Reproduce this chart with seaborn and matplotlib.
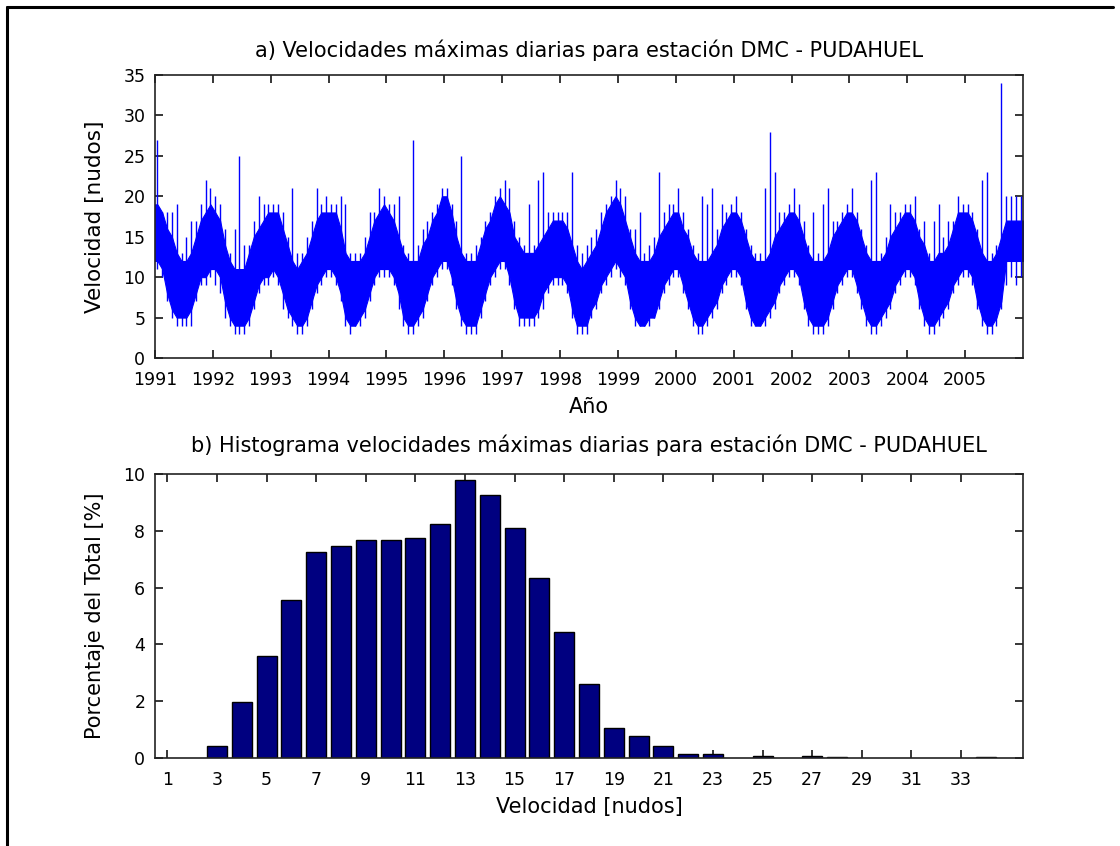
import numpy as np
import matplotlib
matplotlib.use("Agg")
import matplotlib.pyplot as plt
import seaborn as sns

# ---------------- data: panel a (monthly summary of daily maxima, 1991-01 .. 2005-12)
start_year = 1991
end_year = 2006
year_ticks = list(range(1991, 2006))

# upper edge of the dense band (nudos), one value per month, one row per year
core_hi = [
    19, 18, 16, 15, 13, 12, 12, 13, 15, 17, 18, 19,   # 1991
    18, 17, 14, 12, 11, 11, 11, 13, 15, 16, 17, 18,   # 1992
    18, 18, 16, 14, 12, 11, 12, 13, 15, 17, 18, 18,   # 1993
    18, 18, 16, 13, 12, 12, 12, 13, 15, 17, 18, 19,   # 1994
    18, 17, 15, 13, 12, 12, 12, 14, 15, 17, 18, 20,   # 1995
    20, 18, 15, 13, 12, 12, 12, 14, 16, 17, 19, 20,   # 1996
    19, 18, 15, 14, 13, 13, 13, 14, 15, 16, 17, 17,   # 1997
    17, 16, 14, 12, 11, 12, 13, 14, 16, 18, 19, 20,   # 1998
    19, 17, 15, 13, 12, 12, 12, 13, 15, 16, 17, 18,   # 1999
    18, 16, 15, 13, 12, 12, 12, 13, 14, 16, 17, 18,   # 2000
    18, 17, 15, 13, 12, 12, 12, 13, 15, 16, 17, 18,   # 2001
    18, 17, 15, 13, 12, 12, 12, 13, 15, 16, 17, 18,   # 2002
    18, 17, 15, 13, 12, 12, 12, 13, 15, 16, 17, 18,   # 2003
    18, 17, 15, 14, 12, 12, 13, 13, 14, 16, 18, 18,   # 2004
    18, 17, 15, 13, 12, 12, 13, 15, 17, 17, 17, 17,   # 2005
]
# lower edge of the dense band
core_lo = [
    12, 11,  8,  6,  5,  5,  5,  6,  8, 10, 10, 11,   # 1991
    11, 10,  7,  5,  4,  4,  4,  5,  7,  9, 10, 10,   # 1992
    11, 10,  8,  6,  5,  4,  4,  5,  7,  9, 10, 11,   # 1993
    11, 10,  8,  5,  4,  4,  5,  6,  8, 10, 11, 11,   # 1994
    11, 10,  8,  5,  4,  4,  5,  6,  8, 10, 11, 12,   # 1995
    12, 10,  7,  5,  4,  4,  4,  6,  8, 10, 11, 12,   # 1996
    12, 10,  7,  5,  5,  5,  5,  6,  8,  9, 10, 10,   # 1997
    10,  9,  6,  4,  4,  4,  6,  7,  9, 10, 11, 12,   # 1998
    11, 10,  7,  5,  4,  4,  5,  5,  7,  9, 10, 11,   # 1999
    11,  9,  7,  5,  4,  4,  5,  6,  7,  9, 10, 11,   # 2000
    11, 10,  7,  5,  4,  4,  5,  6,  7,  9, 10, 11,   # 2001
    11, 10,  7,  5,  4,  4,  4,  5,  7,  9, 10, 11,   # 2002
    11,  9,  7,  5,  4,  4,  5,  6,  7,  9, 10, 11,   # 2003
    11, 10,  7,  5,  4,  4,  5,  6,  7,  9, 10, 11,   # 2004
    11, 10,  7,  5,  4,  4,  5,  7, 12, 12, 12, 12,   # 2005
]
# highest daily value of each month
peak_hi = [
    27, 18, 18, 18, 19, 13, 15, 17, 17, 19, 22, 21,   # 1991
    20, 19, 16, 13, 16, 25, 14, 14, 17, 20, 19, 19,   # 1992
    19, 19, 18, 15, 21, 13, 13, 15, 17, 21, 19, 20,   # 1993
    19, 19, 20, 19, 13, 13, 13, 15, 18, 18, 21, 20,   # 1994
    19, 19, 20, 14, 13, 27, 14, 16, 17, 18, 19, 21,   # 1995
    21, 19, 17, 25, 13, 13, 14, 15, 17, 18, 20, 21,   # 1996
    22, 21, 17, 15, 14, 19, 14, 22, 23, 18, 18, 18,   # 1997
    18, 18, 23, 14, 13, 14, 15, 16, 18, 19, 20, 22,   # 1998
    21, 20, 16, 16, 18, 13, 14, 15, 23, 18, 19, 19,   # 1999
    21, 18, 16, 14, 13, 20, 19, 21, 16, 19, 18, 19,   # 2000
    20, 18, 16, 14, 13, 13, 21, 28, 23, 18, 18, 19,   # 2001
    21, 19, 17, 14, 18, 13, 19, 21, 17, 17, 18, 19,   # 2002
    21, 18, 16, 14, 22, 23, 13, 15, 19, 18, 18, 19,   # 2003
    19, 20, 16, 17, 13, 17, 19, 15, 17, 17, 20, 19,   # 2004
    19, 18, 16, 22, 23, 13, 14, 34, 20, 20, 20, 20,   # 2005
]
# lowest daily value of each month
peak_lo = [
    11, 10,  7,  5,  4,  4,  4,  4,  7,  9,  9, 10,   # 1991
     9,  8,  5,  4,  3,  3,  3,  4,  6,  8,  9,  9,   # 1992
    10,  9,  6,  5,  4,  3,  3,  4,  6,  8,  9, 10,   # 1993
    10,  9,  7,  4,  3,  4,  4,  5,  7,  9, 10, 10,   # 1994
    10,  9,  6,  4,  3,  3,  4,  5,  7,  9, 10, 11,   # 1995
    11,  9,  6,  4,  3,  3,  3,  5,  7,  9, 10, 11,   # 1996
    11,  9,  6,  4,  4,  4,  4,  5,  6,  8,  9,  9,   # 1997
     9,  8,  5,  3,  3,  3,  5,  6,  8,  9, 10, 11,   # 1998
    10,  9,  6,  4,  4,  4,  4,  5,  6,  8,  9, 10,   # 1999
    10,  8,  6,  4,  3,  3,  4,  5,  6,  8,  9, 10,   # 2000
    10,  9,  6,  4,  4,  4,  4,  5,  6,  8,  9, 10,   # 2001
    10,  9,  6,  4,  3,  3,  3,  4,  6,  8,  9, 10,   # 2002
    10,  8,  6,  4,  3,  3,  4,  5,  6,  8,  9, 10,   # 2003
    10,  9,  6,  4,  3,  3,  4,  5,  6,  8,  9, 10,   # 2004
    10,  9,  6,  4,  3,  3,  4,  6,  9, 10,  9, 10,   # 2005
]

# ---------------- data: panel b (histogram)
hist_speed = [3, 4, 5, 6, 7, 8, 9, 10, 11, 12, 13, 14, 15, 16, 17, 18, 19, 20, 21, 22, 23, 25, 27, 28, 34]
hist_pct = [0.43, 1.97, 3.6, 5.57, 7.27, 7.47, 7.68, 7.68, 7.75, 8.25, 9.79, 9.25, 8.11, 6.34,
            4.44, 2.6, 1.07, 0.79, 0.43, 0.14, 0.14, 0.07, 0.07, 0.05, 0.05]
speed_ticks = list(range(1, 34, 2))

title_a = "a) Velocidades máximas diarias para estación DMC - PUDAHUEL"
title_b = "b) Histograma velocidades máximas diarias para estación DMC - PUDAHUEL"

# ---------------- style
sns.set_theme(style="ticks")
plt.rcParams["font.family"] = ["DejaVu Sans"]
plt.rcParams["text.color"] = "black"
plt.rcParams["axes.labelcolor"] = "black"

W, H = 1120, 846
fig = plt.figure(figsize=(W / 100, H / 100), dpi=100)
ax1 = fig.add_axes([155 / W, 1 - 358 / H, (1023 - 155) / W, (358 - 75) / H])
ax2 = fig.add_axes([155 / W, 1 - 758 / H, (1023 - 155) / W, (758 - 474) / H])

blue = "#0000ff"
n = len(core_hi)
t_mid = start_year + (np.arange(n) + 0.5) / 12.0
t_band = np.concatenate([[start_year], t_mid, [end_year]])
lo_band = [core_lo[0]] + core_lo + [core_lo[-1]]
hi_band = [core_hi[0]] + core_hi + [core_hi[-1]]
ax1.fill_between(t_band, lo_band, hi_band, color=blue, lw=0.8, edgecolor=blue)
ax1.vlines(t_mid, peak_lo, peak_hi, color=blue, lw=1.0)

ax1.set_xlim(start_year, end_year)
ax1.set_ylim(0, 35)
ax1.set_xticks(year_ticks)
ax1.set_xticklabels([str(y) for y in year_ticks])
ax1.set_yticks(range(0, 36, 5))
ax1.set_xlabel("Año", fontsize=15, labelpad=6)
ax1.set_ylabel("Velocidad [nudos]", fontsize=15.5, labelpad=13)
ax1.set_title(title_a, fontsize=15, pad=13)

sns.barplot(x=hist_speed, y=hist_pct, native_scale=True, color="#000080", saturation=1,
            edgecolor="black", linewidth=1.0, width=0.8, ax=ax2)
ax2.set_xlim(0.5, 35.5)
ax2.set_ylim(0, 10)
ax2.set_xticks(speed_ticks)
ax2.set_xticklabels([str(s) for s in speed_ticks])
ax2.set_yticks(range(0, 11, 2))
ax2.set_xlabel("Velocidad [nudos]", fontsize=15, labelpad=6)
ax2.set_ylabel("Porcentaje del Total [%]", fontsize=15, labelpad=13)
ax2.set_title(title_b, fontsize=15, pad=16)

for ax in (ax1, ax2):
    ax.grid(False)
    for s in ax.spines.values():
        s.set_visible(True)
        s.set_color("#222222")
        s.set_linewidth(1.2)
    ax.tick_params(direction="in", length=6, width=1.1, top=True, right=True,
                   labelsize=12.5, colors="black")
    ax.tick_params(axis="x", pad=9)
    ax.tick_params(axis="y", pad=7)

# outer frame (left and top edges of the page frame)
fig.add_artist(plt.Line2D([7 / W, 7 / W], [0, 1 - 7 / H], color="black", lw=2.2))
fig.add_artist(plt.Line2D([7 / W, 1 - 7 / W], [1 - 7 / H, 1 - 7 / H], color="black", lw=2.2))

fig.savefig("out.png", dpi=100, facecolor="white")
